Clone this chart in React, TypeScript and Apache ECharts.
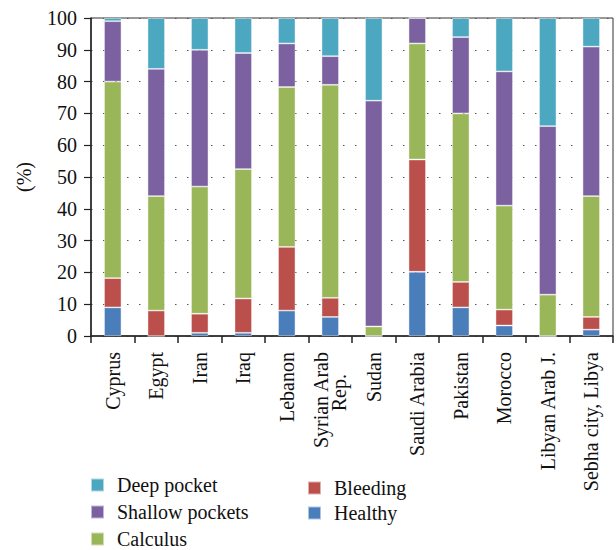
import React, { useEffect, useRef } from "react";
import * as echarts from "echarts";

const categories = [
  "Cyprus",
  "Egypt",
  "Iran",
  "Iraq",
  "Lebanon",
  "Syrian Arab\nRep.",
  "Sudan",
  "Saudi Arabia",
  "Pakistan",
  "Morocco",
  "Libyan Arab J.",
  "Sebha city, Libya",
];

const healthy = [9, 0, 1, 1, 8, 6, 0, 20.2, 9, 3.3, 0, 2];
const bleeding = [9.2, 8, 6, 10.8, 20, 6, 0, 35.3, 8, 5, 0, 4];
const calculus = [61.8, 36, 40, 40.7, 50.3, 67, 3, 36.5, 53, 32.7, 13, 38];
const shallowPockets = [19, 40, 43, 36.5, 13.7, 9, 71, 8, 24, 42.2, 53, 47];
const deepPocket = [1, 16, 10, 11, 8, 12, 26, 0, 6, 16.8, 34, 9];

const yTicks = [0, 10, 20, 30, 40, 50, 60, 70, 80, 90, 100];

const FONT = "Liberation Serif";

const colors = {
  Healthy: "#4A7EBB",
  Bleeding: "#BB4F4C",
  Calculus: "#99B758",
  "Shallow pockets": "#7C61A0",
  "Deep pocket": "#4CA7C1",
};

export default function App() {
  const ref = useRef<HTMLDivElement>(null);

  useEffect(() => {
    if (!ref.current) return;
    const chart = echarts.init(ref.current, undefined, { renderer: "svg" });

    const mk = (name: string, data: number[]) => ({
      name,
      type: "bar",
      stack: "total",
      data,
      barWidth: "40%",
      itemStyle: {
        color: (colors as any)[name],
        borderColor: "rgba(255,255,255,0.55)",
        borderWidth: 0.8,
      },
    });

    const legendText = {
      fontFamily: FONT,
      fontSize: 20,
      color: "#111",
      lineHeight: 20,
      padding: [0, 0, 0, 8],
    };

    chart.setOption({
      animation: false,
      textStyle: { fontFamily: FONT },
      grid: {
        left: 91,
        right: 3,
        top: 18,
        bottom: 214,
        show: true,
        borderColor: "#333",
        borderWidth: 1,
      },
      legend: [
        {
          orient: "vertical",
          left: 90,
          top: 475,
          padding: 0,
          data: ["Deep pocket", "Shallow pockets", "Calculus"],
          icon: "rect",
          itemWidth: 13,
          itemHeight: 13,
          itemGap: 7,
          textStyle: legendText,
        },
        {
          orient: "vertical",
          left: 307,
          top: 478,
          padding: 0,
          data: ["Bleeding", "Healthy"],
          icon: "rect",
          itemWidth: 13,
          itemHeight: 13,
          itemGap: 5,
          textStyle: legendText,
        },
      ],
      xAxis: {
        type: "category",
        data: categories,
        boundaryGap: true,
        axisLine: { lineStyle: { color: "#222", width: 1.5 } },
        axisTick: {
          show: true,
          length: 7,
          alignWithLabel: false,
          lineStyle: { color: "#222", width: 1.5 },
        },
        axisLabel: {
          rotate: 90,
          interval: 0,
          margin: 16,
          fontFamily: FONT,
          fontSize: 20,
          color: "#111",
          lineHeight: 18,
          formatter: (v: string) => {
            const parts = v.split("\n");
            if (parts.length > 1) {
              return parts[0] + "\n{r|" + parts[1] + "}";
            }
            return v;
          },
          rich: {
            r: {
              fontFamily: FONT,
              fontSize: 20,
              color: "#111",
              lineHeight: 18,
              padding: [0, 22, 0, 0],
            },
          },
        },
        splitLine: { show: false },
      },
      yAxis: {
        type: "value",
        min: 0,
        max: 100,
        interval: 10,
        axisLine: { show: true, lineStyle: { color: "#222", width: 1.5 } },
        axisTick: {
          show: true,
          inside: false,
          length: 7,
          lineStyle: { color: "#222", width: 1.2 },
        },
        axisLabel: {
          margin: 14,
          fontFamily: FONT,
          fontSize: 20,
          color: "#111",
          formatter: (v: number) => (yTicks.includes(v) ? String(v) : ""),
        },
        splitLine: {
          show: true,
          lineStyle: { color: "#555", width: 1, type: [1.5, 10.5] },
        },
      },
      graphic: [
        {
          type: "text",
          x: 24,
          y: 177,
          rotation: Math.PI / 2,
          style: {
            text: "(%)",
            fontFamily: FONT,
            fontSize: 20,
            fill: "#111",
            align: "center",
            verticalAlign: "middle",
          },
        },
      ],
      series: [
        mk("Healthy", healthy),
        mk("Bleeding", bleeding),
        mk("Calculus", calculus),
        mk("Shallow pockets", shallowPockets),
        mk("Deep pocket", deepPocket),
      ],
    });

    return () => chart.dispose();
  }, []);

  return (
    <div
      ref={ref}
      style={{ position: "fixed", left: 0, top: 0, width: 616, height: 550, background: "#fff" }}
    />
  );
}
